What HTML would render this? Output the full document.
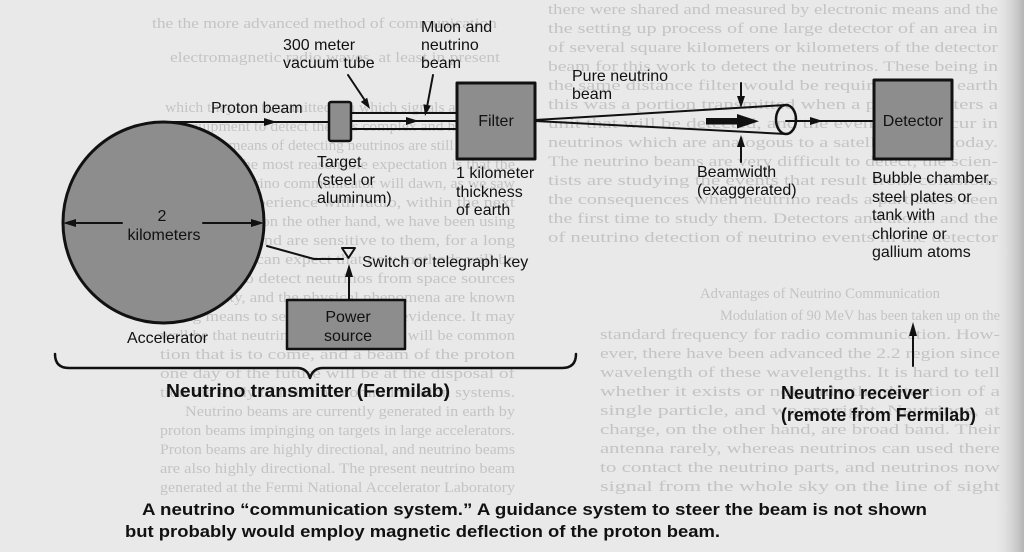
<!DOCTYPE html>
<html><head><meta charset="utf-8"><style>
html,body{margin:0;padding:0;background:#e9e9e9;}
svg{display:block;}
.t{font-family:"Liberation Sans",Arial,sans-serif;font-size:16px;fill:#111;}
.b{font-family:"Liberation Sans",Arial,sans-serif;font-size:18px;font-weight:bold;fill:#111;}
.c{font-family:"Liberation Sans",Arial,sans-serif;font-size:17px;font-weight:bold;fill:#111;}
.g{font-family:"Liberation Serif",serif;font-size:15px;fill:#c4c4c4;}
</style></head><body>
<svg width="1024" height="552" viewBox="0 0 1024 552" xmlns="http://www.w3.org/2000/svg">
<defs>
<linearGradient id="edge" x1="0" x2="1" y1="0" y2="0">
<stop offset="0" stop-color="#e9e9e9" stop-opacity="0"/>
<stop offset="1" stop-color="#b4b4b4" stop-opacity="1"/>
</linearGradient>
</defs>
<rect x="0" y="0" width="1024" height="552" fill="#e9e9e9"/>
<rect x="992" y="0" width="32" height="552" fill="url(#edge)"/>

<!-- faint bleed-through text -->
<g class="g">
<text x="152" y="28" textLength="345" lengthAdjust="spacingAndGlyphs">the the more advanced method of communication</text>
<text x="170" y="62" textLength="330" lengthAdjust="spacingAndGlyphs">electromagnetic radio waves, at least in present</text>
<text x="165" y="112" textLength="350" lengthAdjust="spacingAndGlyphs">which they are transmitted, on which signals are carried</text>
<text x="160" y="131" textLength="355" lengthAdjust="spacingAndGlyphs">the equipment to detect them is complex and heavy, and</text>
<text x="160" y="150" textLength="355" lengthAdjust="spacingAndGlyphs">though the means of detecting neutrinos are still relatively</text>
<text x="160" y="169" textLength="355" lengthAdjust="spacingAndGlyphs">insensitive, the most reasonable expectation is that the</text>
<text x="160" y="188" textLength="355" lengthAdjust="spacingAndGlyphs">age of the neutrino communicator will dawn, as we saw</text>
<text x="160" y="207" textLength="355" lengthAdjust="spacingAndGlyphs">in the first experience with radio, within the next</text>
<text x="160" y="226" textLength="355" lengthAdjust="spacingAndGlyphs">hundred years, on the other hand, we have been using</text>
<text x="160" y="245" textLength="355" lengthAdjust="spacingAndGlyphs">radio waves, and are sensitive to them, for a long</text>
<text x="160" y="264" textLength="355" lengthAdjust="spacingAndGlyphs">time, and we can expect that new methods will be</text>
<text x="160" y="283" textLength="355" lengthAdjust="spacingAndGlyphs">better able to detect neutrinos from space sources</text>
<text x="160" y="302" textLength="355" lengthAdjust="spacingAndGlyphs">of neutrality, and the physical phenomena are known</text>
<text x="160" y="321" textLength="355" lengthAdjust="spacingAndGlyphs">trying means to send more helpful evidence. It may</text>
<text x="160" y="340" textLength="355" lengthAdjust="spacingAndGlyphs">well be that neutrino communication will be common</text>
<text x="160" y="359" textLength="355" lengthAdjust="spacingAndGlyphs">tion that is to come, and a beam of the proton</text>
<text x="160" y="378" textLength="355" lengthAdjust="spacingAndGlyphs">one day of the future will be at the disposal of</text>
<text x="160" y="397" textLength="355" lengthAdjust="spacingAndGlyphs">tion the study of neutrino communication systems.</text>
<text x="185" y="416" textLength="330" lengthAdjust="spacingAndGlyphs">Neutrino beams are currently generated in earth by</text>
<text x="160" y="435" textLength="355" lengthAdjust="spacingAndGlyphs">proton beams impinging on targets in large accelerators.</text>
<text x="160" y="454" textLength="355" lengthAdjust="spacingAndGlyphs">Proton beams are highly directional, and neutrino beams</text>
<text x="160" y="473" textLength="355" lengthAdjust="spacingAndGlyphs">are also highly directional. The present neutrino beam</text>
<text x="160" y="492" textLength="355" lengthAdjust="spacingAndGlyphs">generated at the Fermi National Accelerator Laboratory</text>
<text x="548" y="14" textLength="450" lengthAdjust="spacingAndGlyphs">there were shared and measured by electronic means and the</text>
<text x="548" y="33" textLength="450" lengthAdjust="spacingAndGlyphs">the setting up process of one large detector of an area in</text>
<text x="548" y="52" textLength="450" lengthAdjust="spacingAndGlyphs">of several square kilometers or kilometers of the detector</text>
<text x="548" y="71" textLength="450" lengthAdjust="spacingAndGlyphs">beam for this work to detect the neutrinos. These being in</text>
<text x="548" y="90" textLength="450" lengthAdjust="spacingAndGlyphs">the same distance filter would be required for the earth</text>
<text x="548" y="109" textLength="450" lengthAdjust="spacingAndGlyphs">this was a portion transmitted when a particle enters a</text>
<text x="548" y="128" textLength="450" lengthAdjust="spacingAndGlyphs">unit that will be detected, and the events that occur in</text>
<text x="548" y="147" textLength="450" lengthAdjust="spacingAndGlyphs">neutrinos which are analogous to a satellite beam today.</text>
<text x="548" y="166" textLength="450" lengthAdjust="spacingAndGlyphs">The neutrino beams are very difficult to detect; the scien-</text>
<text x="548" y="185" textLength="450" lengthAdjust="spacingAndGlyphs">tists are studying the events that result from collisions</text>
<text x="548" y="204" textLength="450" lengthAdjust="spacingAndGlyphs">the consequences when neutrino reads a particle is seen</text>
<text x="548" y="223" textLength="450" lengthAdjust="spacingAndGlyphs">the first time to study them. Detectors and atoms and the</text>
<text x="548" y="242" textLength="450" lengthAdjust="spacingAndGlyphs">of neutrino detection of neutrino events in the detector</text>
<text x="700" y="298" textLength="240" lengthAdjust="spacingAndGlyphs">Advantages of Neutrino Communication</text>
<text x="720" y="320" textLength="280" lengthAdjust="spacingAndGlyphs">Modulation of 90 MeV has been taken up on the</text>
<text x="600" y="339" textLength="400" lengthAdjust="spacingAndGlyphs">standard frequency for radio communication. How-</text>
<text x="600" y="358" textLength="400" lengthAdjust="spacingAndGlyphs">ever, there have been advanced the 2.2 region since</text>
<text x="600" y="377" textLength="400" lengthAdjust="spacingAndGlyphs">wavelength of these wavelengths. It is hard to tell</text>
<text x="600" y="396" textLength="400" lengthAdjust="spacingAndGlyphs">whether it exists or not, only the detection of a</text>
<text x="600" y="415" textLength="400" lengthAdjust="spacingAndGlyphs">single particle, and we are right. Neutrinos, at</text>
<text x="600" y="434" textLength="400" lengthAdjust="spacingAndGlyphs">charge, on the other hand, are broad band. Their</text>
<text x="600" y="453" textLength="400" lengthAdjust="spacingAndGlyphs">antenna rarely, whereas neutrinos can used there</text>
<text x="600" y="472" textLength="400" lengthAdjust="spacingAndGlyphs">to contact the neutrino parts, and neutrinos now</text>
<text x="600" y="491" textLength="400" lengthAdjust="spacingAndGlyphs">signal from the whole sky on the line of sight</text>
</g>

<g stroke="#111" fill="none" stroke-linecap="round" stroke-linejoin="round">
<!-- accelerator -->
<circle cx="163.5" cy="222.5" r="100.5" fill="#8d8d8d" stroke-width="3"/>
<!-- proton beam -->
<line x1="158" y1="122" x2="330" y2="122" stroke-width="2"/>
<!-- target -->
<rect x="329" y="102" width="22" height="39" rx="2" fill="#8d8d8d" stroke-width="2.5"/>
<!-- tube lines -->
<line x1="351" y1="113" x2="457" y2="113" stroke-width="2"/>
<line x1="351" y1="121" x2="457" y2="121" stroke-width="2"/>
<line x1="351" y1="129" x2="457" y2="129" stroke-width="2"/>
<!-- pointers -->
<line x1="348" y1="75" x2="366" y2="102" stroke-width="2"/>
<line x1="433" y1="75" x2="427" y2="107" stroke-width="2"/>
<!-- filter -->
<rect x="457" y="83" width="78" height="76" fill="#8d8d8d" stroke-width="3"/>
<!-- cone -->
<line x1="535" y1="120" x2="786" y2="105" stroke-width="2"/>
<line x1="535" y1="121" x2="786" y2="134" stroke-width="2"/>
<ellipse cx="786" cy="119.5" rx="10" ry="14.5" stroke-width="2.5"/>
<line x1="786" y1="121" x2="874" y2="121" stroke-width="2"/>
<!-- beamwidth arrows -->
<line x1="741" y1="83" x2="741" y2="98" stroke-width="2"/>
<line x1="741" y1="145" x2="741" y2="162" stroke-width="2"/>
<!-- detector -->
<rect x="874" y="80" width="78" height="79" fill="#8d8d8d" stroke-width="3"/>
<!-- 2 km arrows -->
<line x1="74" y1="223" x2="122" y2="223" stroke-width="2"/>
<line x1="203" y1="223" x2="253" y2="223" stroke-width="2"/>
<!-- switch wiring -->
<polyline points="267,246 314,259 343,259" stroke-width="2"/>
<polygon points="342,248 355,248 348.5,258" stroke-width="2"/>
<line x1="349" y1="300" x2="349" y2="274" stroke-width="2"/>
<!-- power source -->
<rect x="287" y="300" width="118" height="49" fill="#8d8d8d" stroke-width="2.5"/>
<!-- brace -->
<path d="M55,354 Q55,368 69,368 L297,368 Q307,368 310,378 Q313,368 323,368 L562,368 Q576,368 576,354" stroke-width="2.5"/>
<!-- receiver arrow -->
<line x1="913" y1="366" x2="913" y2="333" stroke-width="2"/>
</g>

<!-- arrowheads -->
<g fill="#111">
<polygon points="277,122 264,118 264,126"/>
<polygon points="419,121 406,117 406,125"/>
<polygon points="370,109 360.8,101.9 367.2,97.7"/>
<polygon points="425,116 423.4,104.3 430.8,105.8"/>
<polygon points="823,121 810,117 810,125"/>
<polygon points="741,108 737,96 745,96"/>
<polygon points="741,135 737,147 745,147"/>
<polygon points="63,223 76,219 76,227"/>
<polygon points="264,223 251,219 251,227"/>
<polygon points="349,264 345,277 353,277"/>
<polygon points="913,322 909,336 917,336"/>
<!-- thick beam arrow -->
<rect x="706" y="118" width="33" height="6.5"/>
<polygon points="737,114 759,121.2 737,128.5"/>
</g>

<!-- labels -->
<text class="t" x="211" y="113">Proton beam</text>
<text class="t" x="283" y="50">300 meter</text>
<text class="t" x="283" y="68">vacuum tube</text>
<text class="t" x="421" y="32">Muon and</text>
<text class="t" x="421" y="50">neutrino</text>
<text class="t" x="421" y="68">beam</text>
<text class="t" x="496" y="126" text-anchor="middle">Filter</text>
<text class="t" x="317" y="167">Target</text>
<text class="t" x="317" y="185">(steel or</text>
<text class="t" x="317" y="203">aluminum)</text>
<text class="t" x="456" y="178">1 kilometer</text>
<text class="t" x="456" y="197">thickness</text>
<text class="t" x="456" y="215">of earth</text>
<text class="t" x="162" y="221" text-anchor="middle">2</text>
<text class="t" x="164" y="240" text-anchor="middle">kilometers</text>
<text class="t" x="362" y="267">Switch or telegraph key</text>
<text class="t" x="348" y="322" text-anchor="middle">Power</text>
<text class="t" x="348" y="341" text-anchor="middle">source</text>
<text class="t" x="127" y="343">Accelerator</text>
<text class="t" x="572" y="81">Pure neutrino</text>
<text class="t" x="572" y="99">beam</text>
<text class="t" x="697" y="177">Beamwidth</text>
<text class="t" x="697" y="195">(exaggerated)</text>
<text class="t" x="913" y="126" text-anchor="middle">Detector</text>
<text class="t" x="872" y="183">Bubble chamber,</text>
<text class="t" x="872" y="202">steel plates or</text>
<text class="t" x="872" y="220">tank with</text>
<text class="t" x="872" y="239">chlorine or</text>
<text class="t" x="872" y="257">gallium atoms</text>

<text class="b" x="166" y="397" textLength="284" lengthAdjust="spacingAndGlyphs">Neutrino transmitter (Fermilab)</text>
<text class="b" x="781" y="399">Neutrino receiver</text>
<text class="b" x="781" y="421" textLength="195" lengthAdjust="spacingAndGlyphs">(remote from Fermilab)</text>

<text class="c" x="142" y="515" textLength="785" lengthAdjust="spacingAndGlyphs">A neutrino “communication system.” A guidance system to steer the beam is not shown</text>
<text class="c" x="125" y="537" textLength="595" lengthAdjust="spacingAndGlyphs">but probably would employ magnetic deflection of the proton beam.</text>
</svg>
</body></html>
